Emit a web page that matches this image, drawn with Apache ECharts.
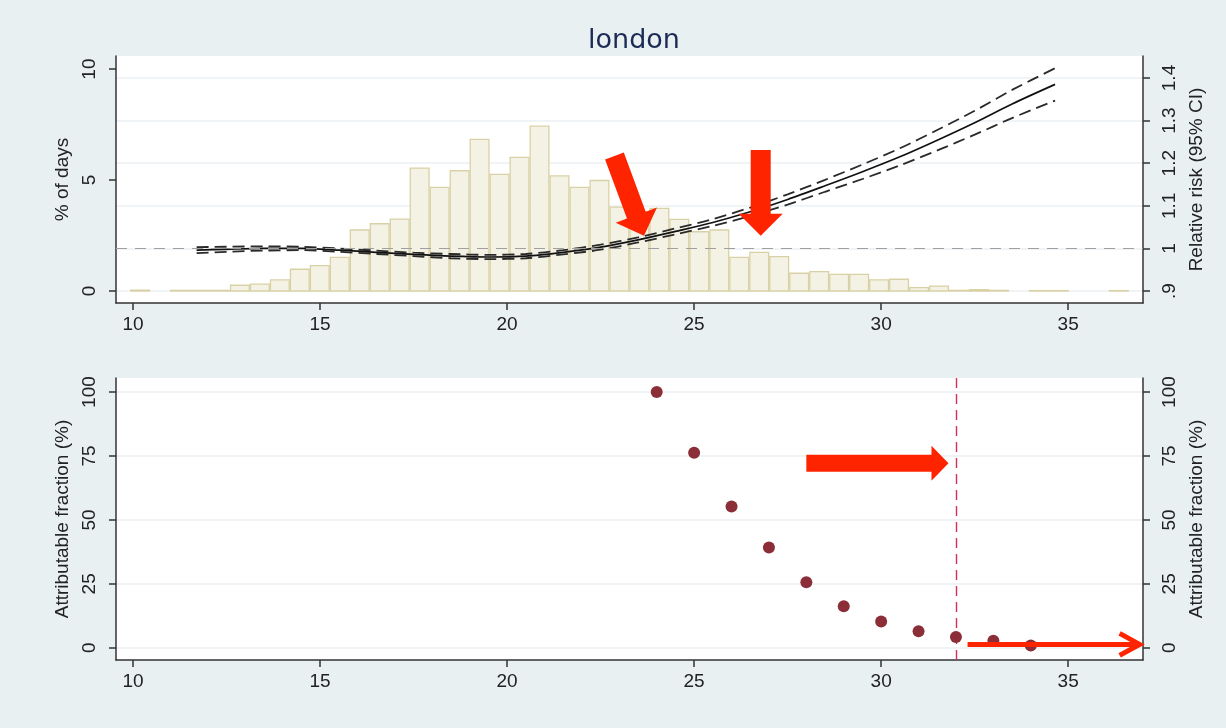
<!DOCTYPE html>
<html><head><meta charset="utf-8">
<script src="https://cdn.jsdelivr.net/npm/echarts@6/dist/echarts.min.js"></script>
<style>html,body{margin:0;padding:0;background:#e8f0f2}#c{width:1226px;height:728px}</style>
</head><body><div id="c"></div>
<script>
// ---------- data ----------
const chartTitle = 'london';
const xTicks = [10, 15, 20, 25, 30, 35];
const pctTicks = [0, 5, 10];
const rrTicks = [0.9, 1, 1.1, 1.2, 1.3, 1.4];
const afTicks = [0, 25, 50, 75, 100];

// histogram: % of days per temperature bin
const binFirstEdge = 9.92;
const binWidth = 0.534;
const binPct = [0.04, 0, 0.03, 0.03, 0.03, 0.26, 0.31, 0.50, 0.98, 1.14,
  1.52, 2.75, 3.03, 3.24, 5.54, 4.67, 5.42, 6.83, 5.26, 6.02,
  7.43, 5.19, 4.67, 4.98, 3.78, 3.55, 3.72, 3.23, 2.67, 2.75,
  1.52, 1.74, 1.55, 0.80, 0.87, 0.75, 0.75, 0.50, 0.53, 0.15,
  0.22, 0.03, 0.06, 0.03, 0, 0.02, 0.02, 0, 0, 0.02];

// relative risk curve with 95% CI
const rrTemp = [11.7, 12.5, 13.5, 14.5, 15.5, 16.5, 17.5, 18.5, 19.5, 20.5, 21.5, 22.5,
  23.5, 24.5, 25.5, 26.5, 27.5, 28.5, 29.5, 30.5, 31.5, 32.5, 33.5, 34.65];
const rrEst = [0.996, 0.998, 1.000, 1.000, 0.996, 0.991, 0.986, 0.982, 0.980, 0.982, 0.991, 1.003,
  1.020, 1.040, 1.061, 1.086, 1.115, 1.147, 1.180, 1.215, 1.254, 1.295, 1.339, 1.385];
const rrLow = [0.989, 0.992, 0.995, 0.996, 0.992, 0.987, 0.982, 0.977, 0.975, 0.977, 0.986, 0.997,
  1.014, 1.033, 1.053, 1.076, 1.103, 1.133, 1.163, 1.195, 1.230, 1.267, 1.306, 1.347];
const rrHigh = [1.003, 1.004, 1.005, 1.004, 1.000, 0.995, 0.990, 0.987, 0.985, 0.987, 0.996, 1.009,
  1.026, 1.047, 1.069, 1.096, 1.127, 1.161, 1.197, 1.235, 1.278, 1.323, 1.372, 1.423];
const rrReference = 1;

// attributable fraction
const afTemp = [24, 25, 26, 27, 28, 29, 30, 31, 32, 33, 34];
const afValue = [100, 76.3, 55.2, 39.2, 25.6, 16.2, 10.3, 6.4, 4.2, 2.7, 0.9];
const thresholdTemp = 32;

// ---------- chart ----------
const FONT = 'Liberation Sans, Arial, sans-serif';
const TXT = '#222';
const AX = '#333';
const GRIDC = '#ebf1f4';

const bins = binPct.map((v, i) => [binFirstEdge + i * binWidth, binFirstEdge + (i + 1) * binWidth, v]);
const zip = (a, b) => a.map((v, i) => [v, b[i]]);

function xAxis(gi) {
  return {
    type: 'value', gridIndex: gi, min: 9.545, max: 37.0,
    axisLine: { show: true, onZero: false, lineStyle: { color: AX, width: 1.5 } },
    axisTick: { show: true, length: 7, customValues: xTicks, lineStyle: { color: AX, width: 1.5 } },
    axisLabel: { customValues: xTicks, color: TXT, fontSize: 19, fontFamily: FONT, margin: 12 },
    splitLine: { show: false }
  };
}
function yAxis(gi, pos, min, max, ticks, name, split, fmt) {
  return {
    type: 'value', gridIndex: gi, position: pos, min, max,
    name, nameLocation: 'middle', nameRotate: 90, nameGap: 44,
    nameTextStyle: { color: TXT, fontSize: 19, fontFamily: FONT },
    axisLine: { show: true, onZero: false, lineStyle: { color: AX, width: 1.5 } },
    axisTick: { show: true, length: 7, customValues: ticks, lineStyle: { color: AX, width: 1.5 } },
    axisLabel: { customValues: ticks, rotate: 90, color: TXT, fontSize: 19, fontFamily: FONT, margin: 17,
      formatter: fmt || (v => String(v)) },
    splitLine: { show: split, lineStyle: { color: GRIDC, width: 1.5 } }
  };
}

const chart = echarts.init(document.getElementById('c'), null, { renderer: 'canvas' });
const lineCommon = { type: 'line', xAxisIndex: 0, yAxisIndex: 1, smooth: 0.3, symbol: 'none', silent: true };
const option = {
  backgroundColor: '#e8f0f2',
  animation: false,
  title: {
    text: chartTitle, left: 629, top: 22, textAlign: 'center',
    textStyle: { color: '#1c2b55', fontSize: 27, fontWeight: 'normal', fontFamily: 'DejaVu Sans, sans-serif' }
  },
  grid: [
    { left: 116, top: 56, width: 1027, height: 247, show: true, backgroundColor: '#fff', borderWidth: 0 },
    { left: 116, top: 378, width: 1027, height: 282, show: true, backgroundColor: '#fff', borderWidth: 0 }
  ],
  xAxis: [xAxis(0), xAxis(1)],
  yAxis: [
    yAxis(0, 'left', -0.54, 10.59, pctTicks, '% of days', false),
    yAxis(0, 'right', 0.872, 1.4516, rrTicks, 'Relative risk (95% CI)', true,
      v => String(+v.toFixed(2)).replace(/^0\./, '.')),
    yAxis(1, 'left', -4.8, 105.5, afTicks, 'Attributable fraction (%)', true),
    yAxis(1, 'right', -4.8, 105.5, afTicks, 'Attributable fraction (%)', false)
  ],
  series: [
    {
      type: 'line', xAxisIndex: 0, yAxisIndex: 1, data: [], z: 1, silent: true,
      markLine: {
        silent: true, symbol: 'none', label: { show: false },
        lineStyle: { color: '#a0a0a0', type: [11, 8], width: 1.2 },
        data: [{ yAxis: rrReference }]
      }
    },
    {
      type: 'custom', xAxisIndex: 0, yAxisIndex: 0, z: 2, clip: true, silent: true,
      data: bins,
      renderItem: (params, api) => {
        const x0 = api.value(0), x1 = api.value(1), h = api.value(2);
        if (!(h > 0)) return null;
        const p0 = api.coord([x0, h]), p1 = api.coord([x1, 0]);
        return {
          type: 'rect',
          shape: { x: p0[0] + 0.6, y: p0[1], width: p1[0] - p0[0] - 1.2, height: p1[1] - p0[1] },
          style: { fill: '#f4f2e4', stroke: '#d9d1a6', lineWidth: 1.3 }
        };
      }
    },
    Object.assign({}, lineCommon, { z: 3, data: zip(rrTemp, rrHigh),
      lineStyle: { color: '#2a2a2a', width: 1.8, type: [12, 6] } }),
    Object.assign({}, lineCommon, { z: 3, data: zip(rrTemp, rrLow),
      lineStyle: { color: '#2a2a2a', width: 1.8, type: [12, 6] } }),
    Object.assign({}, lineCommon, { z: 4, data: zip(rrTemp, rrEst),
      lineStyle: { color: '#111', width: 1.7 } }),
    {
      type: 'scatter', xAxisIndex: 1, yAxisIndex: 2, z: 5, data: zip(afTemp, afValue),
      symbolSize: 12, itemStyle: { color: '#8b2e38', opacity: 1 },
      markLine: {
        silent: true, symbol: 'none', label: { show: false },
        lineStyle: { color: '#d4305a', type: [10, 6], width: 1.4 },
        data: [{ xAxis: thresholdTemp }]
      }
    }
  ]
};
chart.setOption(option);

// ---------- red annotation arrows (anchored in data units) ----------
const RED = '#ff2400';
function blockArrow(T, P, sw, hw, hl) {
  const dx = P[0] - T[0], dy = P[1] - T[1], L = Math.hypot(dx, dy);
  const ux = dx / L, uy = dy / L, nx = -uy, ny = ux;
  const B = [P[0] - ux * hl, P[1] - uy * hl];
  return [
    [T[0] + nx * sw / 2, T[1] + ny * sw / 2],
    [B[0] + nx * sw / 2, B[1] + ny * sw / 2],
    [B[0] + nx * hw / 2, B[1] + ny * hw / 2],
    P,
    [B[0] - nx * hw / 2, B[1] - ny * hw / 2],
    [B[0] - nx * sw / 2, B[1] - ny * sw / 2],
    [T[0] - nx * sw / 2, T[1] - ny * sw / 2]
  ];
}
const px = (g, v) => chart.convertToPixel({ gridIndex: g }, v);
const graphics = [];
[
  { g: 0, from: [22.87, 6.08], to: [23.66, 2.49], sw: 20, hw: 44, hl: 22 },
  { g: 0, from: [26.78, 6.35], to: [26.78, 2.49], sw: 20, hw: 44, hl: 22 },
  { g: 1, from: [28.0, 72.2], to: [31.80, 72.2], sw: 17, hw: 35, hl: 17 }
].forEach(a => {
  graphics.push({ type: 'polygon', z: 100, shape: { points: blockArrow(px(a.g, a.from), px(a.g, a.to), a.sw, a.hw, a.hl) },
    style: { fill: RED } });
});
const t0 = px(1, [32.31, 1.3]), t1 = px(1, [36.91, 1.3]);
graphics.push({ type: 'line', z: 100, shape: { x1: t0[0], y1: t0[1], x2: t1[0] - 2, y2: t1[1] },
  style: { stroke: RED, lineWidth: 5 } });
graphics.push({ type: 'polyline', z: 100,
  shape: { points: [[t1[0] - 20, t1[1] - 11], t1, [t1[0] - 20, t1[1] + 11]] },
  style: { stroke: RED, lineWidth: 5, fill: null, lineJoin: 'miter' } });
chart.setOption({ graphic: graphics });
</script>
</body></html>
